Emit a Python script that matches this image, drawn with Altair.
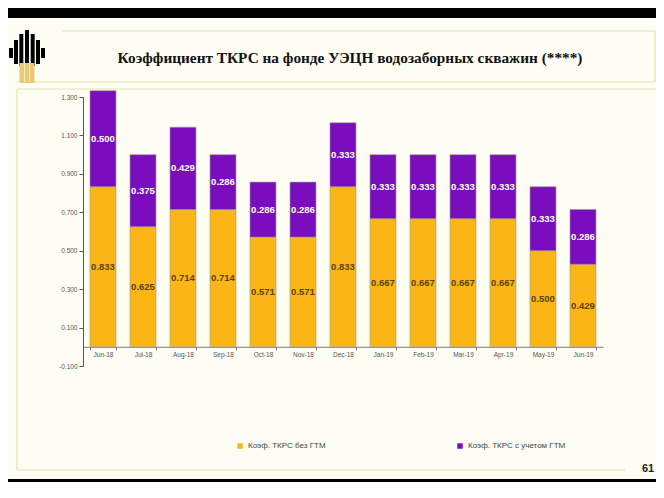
import altair as alt
import pandas as pd

# ---------------- data ----------------
months = ["Jun-18", "Jul-18", "Aug-18", "Sep-18", "Oct-18", "Nov-18", "Dec-18",
          "Jan-19", "Feb-19", "Mar-19", "Apr-19", "May-19", "Jun-19"]
base_vals = [0.833, 0.625, 0.714, 0.714, 0.571, 0.571, 0.833,
             0.667, 0.667, 0.667, 0.667, 0.500, 0.429]
gtm_vals = [0.500, 0.375, 0.429, 0.286, 0.286, 0.286, 0.333,
            0.333, 0.333, 0.333, 0.333, 0.333, 0.286]
series_names = ["Коэф. ТКРС без ГТМ", "Коэф. ТКРС с учетом ГТМ"]
y_ticks = [-0.1, 0.1, 0.3, 0.5, 0.7, 0.9, 1.1, 1.3]
title_text = "Коэффициент ТКРС на фонде УЭЦН водозаборных скважин (****)"
page_number = "61"

rows = []
for m, b, g in zip(months, base_vals, gtm_vals):
    rows.append({"month": m, "series": series_names[0], "value": b, "start": 0.0, "end": b})
    rows.append({"month": m, "series": series_names[1], "value": g, "start": b, "end": b + g})
df = pd.DataFrame(rows)
df["mid"] = (df["start"] + df["end"]) / 2

YELLOW = "#FBB615"
PURPLE = "#7A0EBE"
BG = "#fdfdf4"
FRAME = "#ebe0ad"

W, H = 520, 269
y_zero = H * 1.3 / 1.4

x_scale = alt.Scale(paddingInner=0.35, paddingOuter=0.175)
x_axis = alt.Axis(title=None, labelAngle=0, labelFontSize=6.5, labelColor="#555",
                  labelFont="Liberation Sans", tickBand="extent", tickSize=3,
                  domainColor="#777", tickColor="#777", offset=y_zero - H,
                  labelPadding=2)
y_scale = alt.Scale(domain=[-0.1, 1.3], nice=False, zero=False)
y_axis = alt.Axis(values=y_ticks, tickCount=8, format=".3f", title=None, grid=False,
                  labelExpr="replace(datum.label, '\u2212', '-')",
                  labelOverlap=False, labelFontSize=6.5, labelColor="#555",
                  labelFont="Liberation Sans",
                  tickSize=4, tickColor="#555", domainColor="#555", labelPadding=2)

bars = alt.Chart(df).mark_bar(stroke="#9c9c9c", strokeWidth=0.6).encode(
    x=alt.X("month:N", sort=months, scale=x_scale, axis=x_axis),
    y=alt.Y("start:Q", scale=y_scale, axis=y_axis),
    y2="end:Q",
    color=alt.Color("series:N", sort=series_names,
                    scale=alt.Scale(domain=series_names, range=[YELLOW, PURPLE]),
                    legend=alt.Legend(orient="none", legendX=153, legendY=345,
                                      direction="horizontal", title=None,
                                      symbolType="square", symbolSize=30,
                                      symbolStrokeWidth=0, labelFontSize=8,
                                      labelColor="#444", labelFont="Liberation Sans",
                                      columnPadding=130, padding=0)),
)


def labels(series, color):
    return alt.Chart(df).transform_filter(
        alt.datum.series == series
    ).mark_text(fontWeight="bold", fontSize=9.5, font="Liberation Sans", color=color).encode(
        x=alt.X("month:N", sort=months, scale=x_scale, axis=x_axis),
        y=alt.Y("mid:Q", scale=y_scale, axis=y_axis),
        text=alt.Text("value:Q", format=".3f"),
    )


lab_base = labels(series_names[0], "#5a4300")
lab_gtm = labels(series_names[1], "#ffffff")

# ---------------- slide decorations (plot-area pixel coords) ----------------
dummy = alt.Data(values=[{}])
OX, OY = 83, 97  # page position of plot origin


def rect(x1, x2, y1, y2, fill):
    return alt.Chart(dummy).mark_rect(fill=fill, strokeWidth=0).encode(
        x=alt.value(x1 - OX), x2=alt.value(x2 - OX),
        y=alt.value(y1 - OY), y2=alt.value(y2 - OY))


def line(x1, x2, y1, y2, color=FRAME, w=1.2):
    return alt.Chart(dummy).mark_rule(color=color, strokeWidth=w).encode(
        x=alt.value(x1 - OX), x2=alt.value(x2 - OX),
        y=alt.value(y1 - OY), y2=alt.value(y2 - OY))


decos = [
    rect(0, 664, 0, 18, "#000000"),
    rect(0, 664, 479, 498, "#000000"),
    line(62, 655, 31, 31), line(655, 655, 31, 82), line(17, 655, 82, 82),
    line(17, 656, 89, 89), line(17, 17, 89, 470), line(17, 625, 470, 470),
]
# logo: black columns and gold base
logo_cols = [(11.0, 48, 58), (16.0, 40, 64), (21.3, 34, 66), (27.0, 30, 63),
             (32.7, 34, 66), (38.0, 40, 64), (43.0, 48, 58)]
for cx, t, b in logo_cols:
    decos.append(rect(cx - 2.0, cx + 2.0, t, b, "#000000"))
for cx in (21.8, 27.0, 32.2):
    decos.append(rect(cx - 2.3, cx + 2.3, 63, 83, "#e9ca74"))

title = alt.Chart(dummy).mark_text(font="Liberation Serif", fontWeight="bold", fontSize=15.3,
                                    color="#111111", align="center", baseline="middle").encode(
    x=alt.value(350 - OX), y=alt.value(58 - OY), text=alt.value(title_text))
pnum = alt.Chart(dummy).mark_text(font="Liberation Sans", fontWeight="bold", fontSize=11,
                                   color="#222222", align="center", baseline="middle").encode(
    x=alt.value(648 - OX), y=alt.value(469 - OY), text=alt.value(page_number))

chart = alt.layer(*decos, bars, lab_base, lab_gtm, title, pnum).properties(
    width=W, height=H,
    padding={"left": 75, "top": 89, "right": 53, "bottom": 116},
    autosize=alt.AutoSizeParams(type="none"),
).configure(background=BG).configure_view(stroke=None).configure_axisY(labelOverlap=False)

chart.save("out.html", embed_options={"renderer": "svg", "actions": False})
